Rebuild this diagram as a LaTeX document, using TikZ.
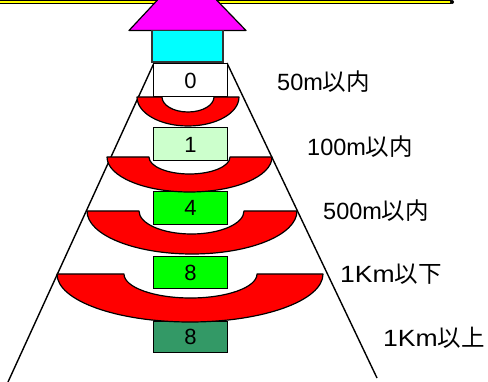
\documentclass[tikz,border=0pt]{standalone}
\usepackage{fontspec}
\setmainfont{Liberation Sans}
\newfontfamily\cjk{Noto Sans CJK JP}
\newfontfamily\widelatin[FakeStretch=1.13]{Liberation Sans}
\definecolor{lightlevel}{RGB}{204,255,204}
\definecolor{darklevel}{RGB}{51,153,102}
\definecolor{roofcolor}{RGB}{255,0,255}
\definecolor{wallcolor}{RGB}{0,255,255}
\definecolor{toplinecolor}{RGB}{255,255,0}
\definecolor{bandcolor}{RGB}{255,0,0}
\definecolor{nearcolor}{RGB}{0,255,0}
\tikzset{
  levelbox/.style={draw=black, line width=1pt, minimum width=74pt, minimum height=33pt, inner sep=0pt, font=\fontsize{22}{22}\selectfont},
  redband/.style={draw=black, fill=bandcolor, line width=1.2pt, line join=round},
  distlabel/.style={anchor=west, inner sep=0pt, font=\fontsize{23.5}{23.5}\selectfont}
}
\begin{document}
\begin{tikzpicture}[x=1pt,y=-1pt]
\useasboundingbox (0,0) rectangle (488,382);

% Draw the line along the top
\fill[black] (0,0) rectangle (451,4);
\fill[toplinecolor] (0,0.6) rectangle (451,2.6);
\fill[black] (452,2) circle (2);

% Draw the two sides
\coordinate (lefttop) at (154,63);
\coordinate (leftend) at (8,382);
\coordinate (righttop) at (227,63);
\coordinate (rightend) at (377,378);
\draw[line width=1.4pt] (lefttop) -- (leftend);
\draw[line width=1.4pt] (righttop) -- (rightend);

% Draw the house
\draw[fill=roofcolor, line width=1.2pt, line join=round] (157.5,0) -- (129,30.5) -- (246,30.5) -- (216.5,0);
\draw[fill=wallcolor, line width=1.4pt, draw=black!80] (152,30.5) rectangle (223,62);

% Draw the boxes
\node[levelbox, fill=white] (zero) at (190.5,80.5) {0};
\node[levelbox, fill=lightlevel] (one) at (190.5,144.5) {1};
\node[levelbox, fill=nearcolor] (four) at (190.5,208) {4};
\node[levelbox, fill=nearcolor, minimum height=32pt] (eightnear) at (190.5,272.5) {8};
\node[levelbox, fill=darklevel, minimum height=31pt] (eightfar) at (190.5,337) {8};

% Draw the red bands
\draw[redband] (137,97) arc[start angle=180, end angle=0, x radius=51, y radius=29] -- (214,97) arc[start angle=0, end angle=180, x radius=26, y radius=15] -- cycle;
\draw[redband] (107,157) arc[start angle=180, end angle=0, x radius=82.5, y radius=35] -- (230,157) arc[start angle=0, end angle=180, x radius=40.5, y radius=17] -- cycle;
\draw[redband] (87,211) arc[start angle=180, end angle=0, x radius=105, y radius=43] -- (244,211) arc[start angle=0, end angle=180, x radius=52.5, y radius=23] -- cycle;
\draw[redband] (57,274) arc[start angle=180, end angle=0, x radius=133, y radius=48] -- (257,274) arc[start angle=0, end angle=180, x radius=66.5, y radius=24] -- cycle;

% Distances at the right
\node[distlabel] (within50) at (277,82) {50m{\cjk 以内}};
\node[distlabel] (within100) at (307,147) {100m{\cjk 以内}};
\node[distlabel] (within500) at (323,211) {500m{\cjk 以内}};
\node[distlabel] (below1k) at (340,274) {{\widelatin 1Km}{\cjk 以下}};
\node[distlabel] (above1k) at (383,338) {{\widelatin 1Km}{\cjk 以上}};

\end{tikzpicture}
\end{document}
